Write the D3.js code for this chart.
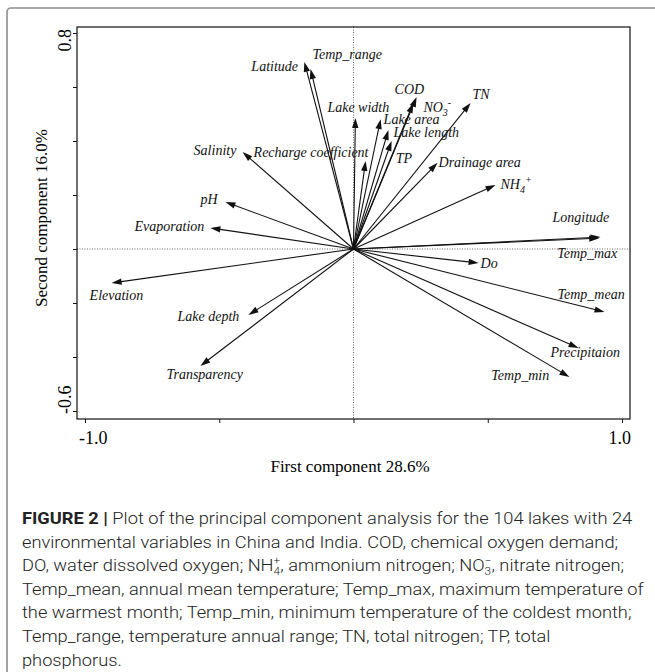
<!DOCTYPE html>
<html>
<head>
<meta charset="utf-8">
<script src="https://cdn.jsdelivr.net/npm/d3@7"></script>
<style>
body { margin: 0; background: #fff; }
svg { display: block; }
</style>
</head>
<body>
<div id="chart"></div>
<script>
// loadings (PC1, PC2)
var variables = ['Latitude', 'Temp_range', 'Lake width', 'Salinity', 'pH', 'Evaporation',
    'Elevation', 'Lake depth', 'Transparency', 'COD', 'NO3-', 'Lake area', 'Lake length',
    'TP', 'Recharge coefficient', 'TN', 'Drainage area', 'NH4+', 'Longitude', 'Temp_max',
    'Do', 'Temp_mean', 'Precipitaion', 'Temp_min'];
var pc1 = [-0.183, -0.160, 0.007, -0.413, -0.477, -0.533,
    -0.901, -0.391, -0.570, 0.235, 0.223, 0.101, 0.130,
    0.142, 0.045, 0.436, 0.313, 0.529, 0.920, 0.915,
    0.466, 0.935, 0.838, 0.804];
var pc2 = [0.693, 0.667, 0.485, 0.359, 0.174, 0.078,
    -0.126, -0.244, -0.433, 0.563, 0.541, 0.481, 0.441,
    0.400, 0.326, 0.541, 0.319, 0.237, 0.044, 0.040,
    -0.052, -0.233, -0.367, -0.474];

var xTickValues = [-1, -0.5, 0, 0.5, 1];
var yTickValues = [-0.6, -0.4, -0.2, 0, 0.2, 0.4, 0.6, 0.8];
var xTickLabels = ['-1.0', '1.0'];
var yTickLabels = ['-0.6', '0.8'];
var xTitle = 'First component 28.6%';
var yTitle = 'Second component 16.0%';

// label offsets from arrow tip, in pixels (layout only)
var labelOffset = {
    'Latitude': [-53, 9], 'Temp_range': [2, -10], 'Lake width': [-28, -6],
    'Salinity': [-49, 3], 'pH': [-25, 2], 'Evaporation': [-76, 3],
    'Elevation': [-22, 17], 'Lake depth': [-71, 6], 'Transparency': [-34, 13],
    'COD': [-22, -3], 'NO3-': [10, 9], 'Lake area': [3, 5], 'Lake length': [5, 7],
    'TP': [4, 22], 'Recharge coefficient': [-112, -4], 'TN': [2, -4],
    'Drainage area': [1, 4], 'NH4+': [5, 4], 'Longitude': [-48, -15],
    'Temp_max': [-42, 20], 'Do': [2, 5], 'Temp_mean': [-47, -13],
    'Precipitaion': [-28, 9], 'Temp_min': [-78, 3]
};

var svg = d3.select('#chart')
    .append('svg')
    .attr('width', 655)
    .attr('height', 672);

// outer figure frame
svg.append('rect')
    .attr('x', 7).attr('y', 8)
    .attr('width', 700).attr('height', 700)
    .attr('rx', 4)
    .attr('fill', 'none')
    .attr('stroke', '#8e8e8e')
    .attr('stroke-width', 1.6);

var box = {left: 77, top: 27, right: 630, bottom: 419};

var xScale = d3.scaleLinear().domain([-1, 1]).range([85, 622]);
var yScale = d3.scaleLinear().domain([-0.6, 0.8]).range([411, 33]);

var serif = '"Liberation Serif", "Times New Roman", serif';

// dotted zero lines
svg.append('line')
    .attr('x1', xScale(0)).attr('x2', xScale(0))
    .attr('y1', box.top).attr('y2', box.bottom)
    .attr('stroke', '#444').attr('stroke-width', 0.8)
    .attr('stroke-dasharray', '1,1.5');
svg.append('line')
    .attr('x1', box.left).attr('x2', box.right)
    .attr('y1', yScale(0)).attr('y2', yScale(0))
    .attr('stroke', '#444').attr('stroke-width', 0.8)
    .attr('stroke-dasharray', '1,1.5');

// axes
svg.append('g')
    .attr('transform', `translate(0,${box.bottom})`)
    .call(d3.axisBottom(xScale).tickValues(xTickValues).tickSize(4).tickFormat(''))
    .call(g => g.select('.domain').remove())
    .call(g => g.selectAll('line').attr('stroke', '#111'));
svg.append('g')
    .attr('transform', `translate(${box.left},0)`)
    .call(d3.axisLeft(yScale).tickValues(yTickValues).tickSize(4).tickFormat(''))
    .call(g => g.select('.domain').remove())
    .call(g => g.selectAll('line').attr('stroke', '#111'));

// plot frame
svg.append('rect')
    .attr('x', box.left).attr('y', box.top)
    .attr('width', box.right - box.left).attr('height', box.bottom - box.top)
    .attr('fill', 'none')
    .attr('stroke', '#111')
    .attr('stroke-width', 1.2);

// end tick labels
svg.append('text')
    .attr('x', xScale(-1) - 6).attr('y', 444)
    .attr('font-family', serif).attr('font-size', 18)
    .text(xTickLabels[0]);
svg.append('text')
    .attr('x', xScale(1) + 9).attr('y', 444)
    .attr('text-anchor', 'end')
    .attr('font-family', serif).attr('font-size', 18)
    .text(xTickLabels[1]);
svg.append('text')
    .attr('transform', `translate(71,${yScale(-0.6) + 3}) rotate(-90)`)
    .attr('font-family', serif).attr('font-size', 18)
    .text(yTickLabels[0]);
svg.append('text')
    .attr('transform', `translate(71,${yScale(0.8) - 4}) rotate(-90)`)
    .attr('text-anchor', 'end')
    .attr('font-family', serif).attr('font-size', 18)
    .text(yTickLabels[1]);

// axis titles
svg.append('text')
    .attr('x', 350).attr('y', 472)
    .attr('text-anchor', 'middle')
    .attr('font-family', serif).attr('font-size', 17)
    .text(xTitle);
svg.append('text')
    .attr('transform', 'translate(47,218) rotate(-90)')
    .attr('text-anchor', 'middle')
    .attr('font-family', serif).attr('font-size', 17)
    .text(yTitle);

// arrows
var ox = xScale(0), oy = yScale(0);
var headLen = 10, headHalf = 3.2;
var arrows = svg.append('g');
variables.forEach(function(name, i) {
    var tx = xScale(pc1[i]), ty = yScale(pc2[i]);
    var a = Math.atan2(ty - oy, tx - ox);
    var bx = tx - headLen * Math.cos(a), by = ty - headLen * Math.sin(a);
    var px = -Math.sin(a) * headHalf, py = Math.cos(a) * headHalf;
    arrows.append('line')
        .attr('x1', ox).attr('y1', oy)
        .attr('x2', bx + 2 * Math.cos(a)).attr('y2', by + 2 * Math.sin(a))
        .attr('stroke', '#111').attr('stroke-width', 1.1);
    arrows.append('path')
        .attr('d', `M${tx},${ty}L${bx + px},${by + py}L${bx - px},${by - py}Z`)
        .attr('fill', '#111');
});

// variable labels
var labels = svg.append('g')
    .attr('font-family', serif)
    .attr('font-style', 'italic')
    .attr('font-size', 14)
    .attr('fill', '#111');
variables.forEach(function(name, i) {
    var off = labelOffset[name];
    var t = labels.append('text')
        .attr('x', xScale(pc1[i]) + off[0])
        .attr('y', yScale(pc2[i]) + off[1]);
    var m = name.match(/^(N[HO])(\d)([+-])$/);
    if (m) {
        t.append('tspan').text(m[1]);
        t.append('tspan').attr('font-size', 10).attr('dy', 4).text(m[2]);
        t.append('tspan').attr('font-size', 10).attr('dy', -10).text(m[3]);
    } else {
        t.text(name);
    }
});

// caption
var captionLines = [
    [['b', 'FIGURE 2 |'], ['', ' Plot of the principal component analysis for the 104 lakes with 24']],
    [['', 'environmental variables in China and India. COD, chemical oxygen demand;']],
    [['', 'DO, water dissolved oxygen; NH'], ['s', '4', '+'], ['', ', ammonium nitrogen; NO'], ['s', '3', '\u2212'], ['', ', nitrate nitrogen;']],
    [['', 'Temp_mean, annual mean temperature; Temp_max, maximum temperature of']],
    [['', 'the warmest month; Temp_min, minimum temperature of the coldest month;']],
    [['', 'Temp_range, temperature annual range; TN, total nitrogen; TP, total']],
    [['', 'phosphorus.']]
];
var captionLeft = 22;
var captionFirstEnd = 633;
var k = 1;

captionLines.forEach(function(parts, li) {
    var baseY = 524 + li * 23.6;
    var t = svg.append('text')
        .attr('x', captionLeft).attr('y', baseY)
        .attr('font-family', 'Roboto, "Liberation Sans", sans-serif')
        .attr('font-weight', 300)
        .attr('font-size', 17)
        .attr('fill', '#222');
    var shift = 0;
    parts.forEach(function(p) {
        if (p[0] === 'b') {
            t.append('tspan').attr('font-weight', 700).text(p[1]);
        } else if (p[0] === 's') {
            t.append('tspan').attr('font-size', 11).attr('dy', 4).text(p[1]);
            t.append('tspan').attr('font-size', 11).attr('dx', -6).attr('dy', -11).text(p[2]);
            shift = 7;
        } else {
            t.append('tspan').attr('dy', shift).text(p[1]);
            shift = 0;
        }
    });
    if (li === 0) {
        k = (captionFirstEnd - captionLeft) / t.node().getComputedTextLength();
    }
    t.attr('transform', `translate(${captionLeft},0) scale(${k},1) translate(${-captionLeft},0)`);
});
</script>
</body>
</html>
